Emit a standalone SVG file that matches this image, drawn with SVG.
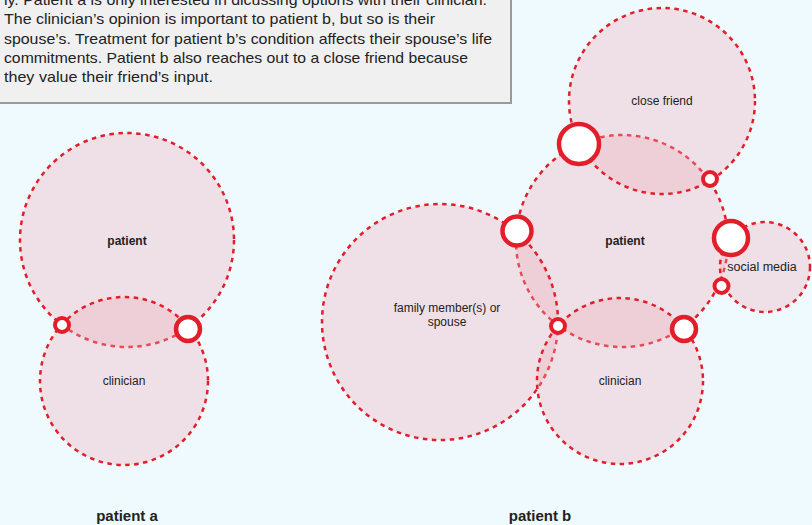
<svg xmlns="http://www.w3.org/2000/svg" width="812" height="525" viewBox="0 0 812 525">
<style>
.c{fill:rgb(241,172,184);fill-opacity:0.32;stroke:#e31e2b;stroke-width:2.5;stroke-dasharray:4.5 4.5}
.r{fill:#ffffff;stroke:#e31e2b;stroke-width:4.5}
.rs{fill:#ffffff;stroke:#e31e2b;stroke-width:4}
.t{font-family:"Liberation Sans",Arial,sans-serif;font-size:12px;fill:#222;text-anchor:middle}
.b{font-weight:bold}
.p{font-family:"Liberation Sans",Arial,sans-serif;font-size:15px;fill:#222}
.h{font-family:"Liberation Sans",Arial,sans-serif;font-size:15px;font-weight:bold;fill:#222;text-anchor:middle}
</style>
<rect x="0" y="0" width="812" height="525" fill="#eefafd"/>
<g id="textbox">
<rect x="-5" y="-20" width="516" height="123" fill="#f0f0f0" stroke="#9a9a9a" stroke-width="2"/>
<text class="p" x="4" y="4.5" textLength="483" lengthAdjust="spacingAndGlyphs">ly. Patient a is only interested in dicussing options with their clinician.</text>
<text class="p" x="4" y="24" textLength="431" lengthAdjust="spacingAndGlyphs">The clinician’s opinion is important to patient b, but so is their</text>
<text class="p" x="4" y="43.5" textLength="488" lengthAdjust="spacingAndGlyphs">spouse’s. Treatment for patient b’s condition affects their spouse’s life</text>
<text class="p" x="4" y="63" textLength="464" lengthAdjust="spacingAndGlyphs">commitments. Patient b also reaches out to a close friend because</text>
<text class="p" x="4" y="82" textLength="209" lengthAdjust="spacingAndGlyphs">they value their friend’s input.</text>
</g>
<g id="a-patient"><circle class="c" cx="127" cy="240" r="107"/></g>
<g id="a-clinician"><circle class="c" cx="124" cy="381" r="84"/></g>
<g id="b-patient"><circle class="c" cx="622" cy="241" r="106"/></g>
<g id="b-friend"><circle class="c" cx="662" cy="101" r="93"/></g>
<g id="b-family"><circle class="c" cx="440" cy="322" r="118"/></g>
<g id="b-clinician"><circle class="c" cx="620" cy="381" r="83"/></g>
<g id="b-social"><circle class="c" cx="765" cy="267" r="45"/></g>
<g id="connectors">
<circle class="rs" cx="62" cy="325" r="7"/>
<circle class="r" cx="188" cy="329" r="12"/>
<circle class="r" cx="579" cy="144" r="20"/>
<circle class="rs" cx="710" cy="179" r="7"/>
<circle class="r" cx="517" cy="231" r="14.5"/>
<circle class="r" cx="731" cy="238" r="17"/>
<circle class="rs" cx="721.5" cy="286" r="7"/>
<circle class="rs" cx="558" cy="326" r="7"/>
<circle class="r" cx="684" cy="329" r="12"/>
</g>
<g id="labels">
<text class="t b" x="127" y="245">patient</text>
<text class="t" x="124" y="385">clinician</text>
<text class="t b" x="625" y="245">patient</text>
<text class="t" x="620" y="385">clinician</text>
<text class="t" x="662" y="105">close friend</text>
<text class="t" x="762" y="271" style="font-size:12.5px">social media</text>
<text class="t" x="447" y="312">family member(s) or</text>
<text class="t" x="447" y="326">spouse</text>
<text class="h" x="127" y="521">patient a</text>
<text class="h" x="540" y="521">patient b</text>
</g>
</svg>
